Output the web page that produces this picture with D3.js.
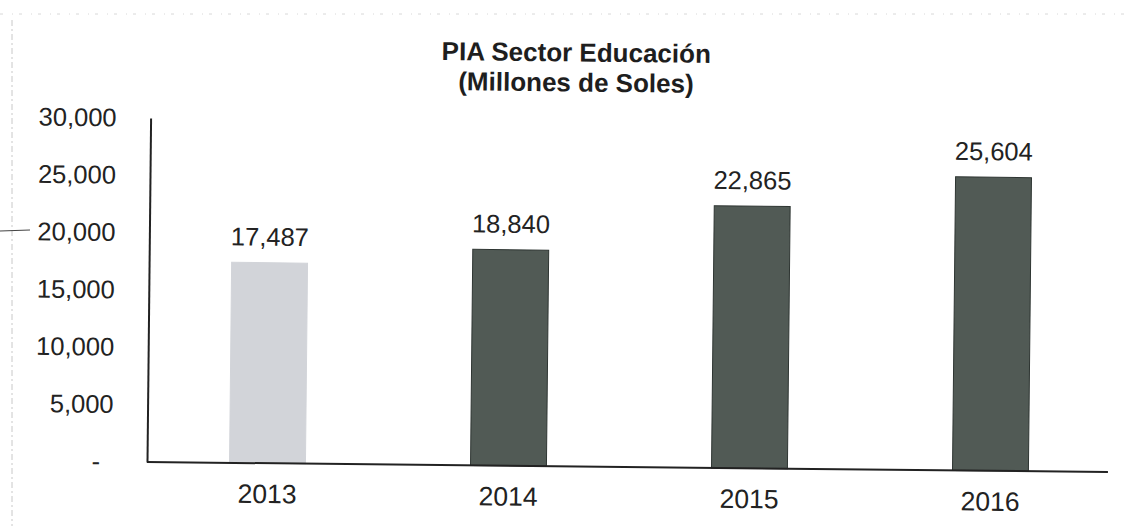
<!DOCTYPE html>
<html>
<head>
<meta charset="utf-8">
<script src="https://cdn.jsdelivr.net/npm/d3@7"></script>
<style>
  html, body { margin: 0; padding: 0; background: #fff; }
  svg { display: block; font-family: "Liberation Sans", Arial, sans-serif; }
</style>
</head>
<body>
<svg id="chart" width="1127" height="526"></svg>
<script>
// PIA Sector Educación, millones de soles
const years = ["2013", "2014", "2015", "2016"];
const values = [17487, 18840, 22865, 25604];
const barColors = ["#d2d4d9", "#515a55", "#515a55", "#515a55"];
const barStrokes = ["#d2d4d9", "#2e3532", "#2e3532", "#2e3532"];
const yTicks = [0, 5000, 10000, 15000, 20000, 25000, 30000];
const yTickLabels = ["-", "5,000", "10,000", "15,000", "20,000", "25,000", "30,000"];
const titleLines = ["PIA Sector Educación", "(Millones de Soles)"];

const svg = d3.select("#chart");
const plotLeft = 147, plotRight = 1108, plotTop = 118, plotBottom = 462;

// faint page edges
svg.append("line").attr("x1", 12).attr("x2", 12).attr("y1", 20).attr("y2", 526)
  .attr("stroke", "#c8c8c8").attr("stroke-width", 1).attr("stroke-dasharray", "6,3,2,3");
svg.append("line").attr("x1", 0).attr("x2", 1127).attr("y1", 14).attr("y2", 14)
  .attr("stroke", "#d8d8d8").attr("stroke-width", 1).attr("stroke-dasharray", "3,9,1,6");
svg.append("line").attr("x1", 0).attr("x2", 30).attr("y1", 231).attr("y2", 230)
  .attr("stroke", "#444").attr("stroke-width", 1.2);

// whole chart sits slightly tilted
const g = svg.append("g").attr("transform", `rotate(0.6, ${plotLeft}, ${plotBottom})`);

const x = d3.scaleBand().domain(years).range([plotLeft, plotLeft + 964])
  .paddingInner(0.685).paddingOuter(0.3425);
const y = d3.scaleLinear().domain([0, 30000]).range([plotBottom, plotTop]);

// title
g.append("text").attr("text-anchor", "middle")
  .attr("font-weight", "bold").attr("font-size", 26).attr("fill", "#1e1e1e")
  .selectAll("tspan").data(titleLines).join("tspan")
  .attr("x", 572).attr("y", (d, i) => 57 + i * 30).text(d => d);

// bars
g.selectAll("rect.bar").data(values).join("rect").attr("class", "bar")
  .attr("x", (d, i) => x(years[i]))
  .attr("width", x.bandwidth())
  .attr("y", d => y(d))
  .attr("height", d => y(0) - y(d))
  .attr("fill", (d, i) => barColors[i])
  .attr("stroke", (d, i) => barStrokes[i])
  .attr("stroke-width", 1);

// value labels
g.selectAll("text.val").data(values).join("text").attr("class", "val")
  .attr("x", (d, i) => x(years[i]) + x.bandwidth() / 2)
  .attr("y", d => y(d) - 17)
  .attr("text-anchor", "middle").attr("font-size", 25.5).attr("fill", "#222")
  .text(d => d3.format(",")(d));

// y axis
const yAxis = d3.axisLeft(y).tickValues(yTicks).tickSize(0).tickPadding(34)
  .tickFormat((d, i) => yTickLabels[i]);
const ya = g.append("g").attr("transform", `translate(${plotLeft},0)`).call(yAxis);
ya.select(".domain").attr("stroke", "#222").attr("stroke-width", 2);
ya.selectAll(".tick text").attr("font-size", 25.5).attr("fill", "#222")
  .attr("font-family", "Liberation Sans, Arial, sans-serif")
  .attr("dx", d => d === 0 ? -13 : 0);

// x axis
const xAxis = d3.axisBottom(x).tickSize(0).tickPadding(21);
const xa = g.append("g").attr("transform", `translate(0,${plotBottom})`).call(xAxis);
xa.select(".domain").attr("d", `M${plotLeft},0H${plotRight}`).attr("stroke", "#222").attr("stroke-width", 2);
xa.selectAll(".tick text").attr("font-size", 26.5).attr("fill", "#222")
  .attr("font-family", "Liberation Sans, Arial, sans-serif");
</script>
</body>
</html>
